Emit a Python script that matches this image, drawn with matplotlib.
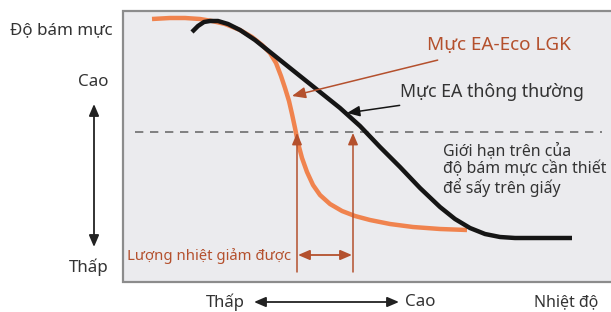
import numpy as np
import matplotlib.pyplot as plt
from matplotlib.patches import Rectangle

plt.rcParams['font.family'] = ['Noto Sans', 'DejaVu Sans']

# đường cong (toạ độ, đơn vị điểm ảnh)
temp_eco = [152, 170, 185, 200, 212, 225, 240, 252, 262, 270, 276, 281, 285, 289, 292, 295,
            298, 302, 307, 313, 320, 330, 342, 355, 370, 390, 413, 440, 467]
adh_eco = [19, 18, 18, 19, 21, 24, 30, 37, 45, 53, 63, 76, 88, 101, 114, 128,
           143, 158, 172, 185, 195, 204, 211, 216, 220, 224, 227, 229, 230]

temp_std = [192, 198, 204, 210, 218, 228, 240, 255, 270, 285, 300, 320, 340, 360, 380, 400,
            420, 440, 455, 470, 485, 500, 515, 535, 555, 572]
adh_std = [32, 26, 22, 21, 21, 24, 30, 40, 52, 64, 76, 92, 108, 126, 147, 167,
           188, 207, 219, 228, 234, 237, 238, 238, 238, 238]

limit_y = 132
limit_x = [135, 602]
cross_eco = 297
cross_std = 353

ORANGE = '#f0834e'
BROWN = '#b4502d'
GRAY_TXT = '#333333'

fig = plt.figure(figsize=(6.11, 3.12), dpi=100)
ax = fig.add_axes([0, 0, 1, 1])
ax.set_xlim(0, 611)
ax.set_ylim(312, 0)
ax.axis('off')

# khung nền
ax.add_patch(Rectangle((123, 11), 520, 271, facecolor='#ebebee', edgecolor='#8c8c8c', lw=1.6, zorder=0))

ax.plot(limit_x, [limit_y, limit_y], color='#6e6e6e', lw=1.2, dashes=(5, 4), zorder=1)

ax.plot(temp_eco, adh_eco, color=ORANGE, lw=3.2, solid_capstyle='butt', solid_joinstyle='round', zorder=2)
ax.plot(temp_std, adh_std, color='#151515', lw=3.2, solid_capstyle='butt', solid_joinstyle='round', zorder=3)

# mũi tên dọc và mũi tên ngang
for xv in [cross_eco, cross_std]:
    ax.annotate('', xy=(xv, limit_y + 1), xytext=(xv, 272),
                arrowprops=dict(arrowstyle='-|>,head_length=0.7,head_width=0.3', color=BROWN, lw=1.1,
                                shrinkA=0, shrinkB=0), zorder=4)
ax.annotate('', xy=(cross_eco + 1, 255), xytext=(cross_std - 1, 255),
            arrowprops=dict(arrowstyle='<|-|>,head_length=0.7,head_width=0.3', color=BROWN, lw=1.3,
                            shrinkA=0, shrinkB=0), zorder=4)
ax.text(127, 256, 'Lượng nhiệt giảm được', color=BROWN, fontsize=10.7, va='center', ha='left')

# chú thích
ax.annotate('Mực EA-Eco LGK', xy=(292, 96), xytext=(427, 45), color=BROWN, fontsize=13.6,
            va='center', ha='left',
            arrowprops=dict(arrowstyle='-|>,head_length=0.6,head_width=0.25', color=BROWN, lw=1.1,
                            shrinkA=10, shrinkB=0))
ax.annotate('Mực EA thông thường', xy=(347, 113), xytext=(400, 92), color=GRAY_TXT, fontsize=12.8,
            va='center', ha='left',
            arrowprops=dict(arrowstyle='-|>,head_length=0.6,head_width=0.25', color='#151515', lw=1.1,
                            shrinkA=8, shrinkB=0))
note = ax.text(443, 170, 'Giới hạn trên của\nđộ bám mực cần thiết\nđể sấy trên giấy', color=GRAY_TXT,
               fontsize=11.8, va='center', ha='left', linespacing=1.1)
# thu nhỏ nếu chữ tràn mép phải
fig.canvas.draw()
bb = note.get_window_extent()
if bb.x1 > 606:
    note.set_fontsize(11.8 * (606 - bb.x0) / bb.width)

# trục trái
ax.text(113, 30, 'Độ bám mực', color=GRAY_TXT, fontsize=12.2, va='center', ha='right')
ax.text(93, 82, 'Cao', color=GRAY_TXT, fontsize=12.2, va='center', ha='center')
ax.text(89, 267, 'Thấp', color=GRAY_TXT, fontsize=12.2, va='center', ha='center')
ax.annotate('', xy=(94, 104), xytext=(94, 247),
            arrowprops=dict(arrowstyle='<|-|>,head_length=0.7,head_width=0.3', color='#222222', lw=1.3,
                            shrinkA=0, shrinkB=0))

# trục dưới
ax.text(245, 302, 'Thấp', color=GRAY_TXT, fontsize=12, va='center', ha='right')
ax.text(405, 302, 'Cao', color=GRAY_TXT, fontsize=12.2, va='center', ha='left')
ax.text(598, 302, 'Nhiệt độ', color=GRAY_TXT, fontsize=11.5, va='center', ha='right')
ax.annotate('', xy=(254, 302), xytext=(399, 302),
            arrowprops=dict(arrowstyle='<|-|>,head_length=0.7,head_width=0.3', color='#222222', lw=1.3,
                            shrinkA=0, shrinkB=0))

fig.savefig('out.png', dpi=100)
